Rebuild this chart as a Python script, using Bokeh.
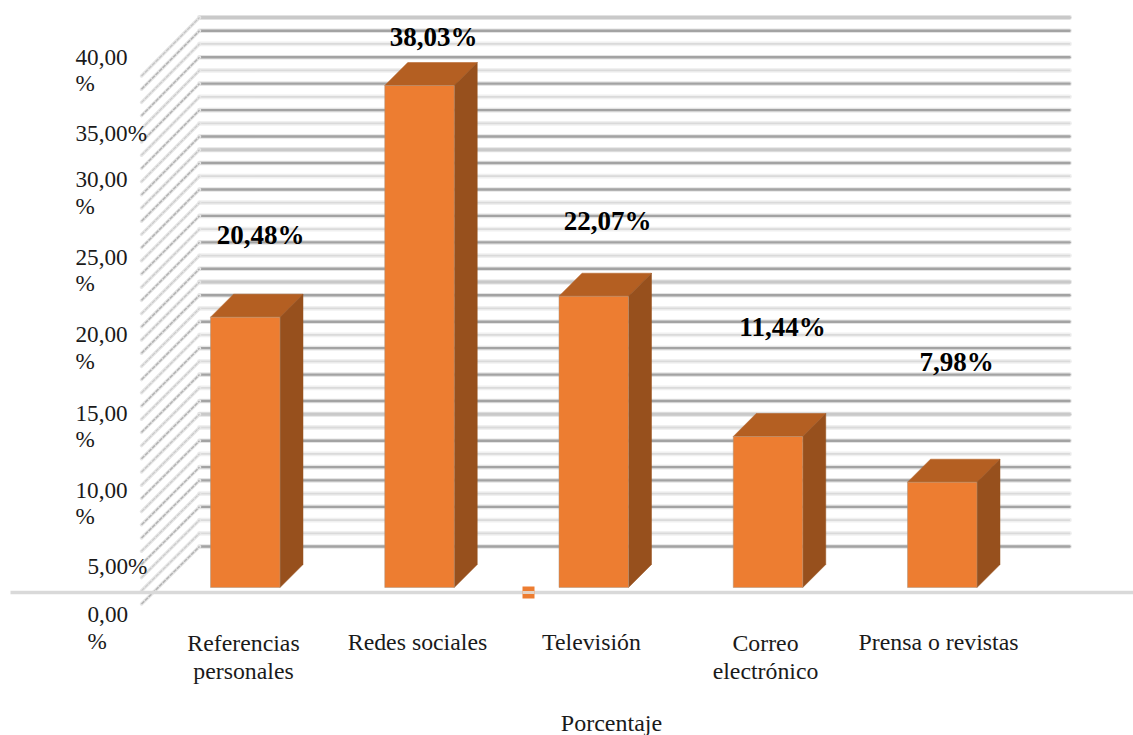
from bokeh.embed import file_html
from bokeh.models import ColumnDataSource, Range1d
from bokeh.plotting import figure
from bokeh.core.properties import value
from bokeh.resources import INLINE

# Survey shares per information channel
categories = ["Referencias\npersonales", "Redes sociales", "Televisión",
              "Correo\nelectrónico", "Prensa o revistas"]
shares = [20.48, 38.03, 22.07, 11.44, 7.98]
share_labels = ["20,48%", "38,03%", "22,07%", "11,44%", "7,98%"]
tick_labels = ["0,00\n%", "5,00%", "10,00\n%", "15,00\n%", "20,00\n%",
               "25,00\n%", "30,00\n%", "35,00%", "40,00\n%"]
x_title = "Porcentaje"
grid_levels = list(range(0, 41))
# Rule tone for each level, bottom to top: d dark, m medium, p pale
grid_tones = "dppdpddpdpm" + "dpdpdpdpd" + "m" + "dpdpdpdpd" + "m" + "dpdpdpdpd" + "m"

# Page layout, in pixels, turned into percent through the vertical scale
W, H = 1133, 735
BASE_PX = 587.0
PX_PER_PCT = 13.2


def pct(py):
    return (BASE_PX - py) / PX_PER_PCT


FONT = value("Liberation Serif")
p = figure(width=W, height=H, output_backend="svg", toolbar_location=None,
           x_range=Range1d(0, W), y_range=Range1d(pct(H), pct(0)),
           min_border=0, outline_line_color=None, background_fill_color="white")
p.axis.visible = False
p.grid.visible = False

# Back wall rules with their side-wall diagonals
WALL_L, WALL_R, SIDE_L = 199, 1069, 141
BACK_0, FRONT_0 = 546.0, 603.5
TONES = {
    "d": dict(halo="#e4e4e4", core="#a3a3a3", hw=4.6, cw=2.4, diag="#b4b4b4", dw=1.5),
    "m": dict(halo="#e2e2e2", core="#c9c9c9", hw=4.8, cw=3.0, diag="#c4c4c4", dw=1.3),
    "p": dict(halo="#f0f0f0", core="#dadada", hw=4.8, cw=1.8, diag="#cacaca", dw=1.1),
}
for lvl, tone in zip(grid_levels, grid_tones):
    s = TONES[tone]
    yb = BACK_0 - 13.225 * lvl
    yf = FRONT_0 - 13.2 * lvl
    y = pct(yb)
    p.line([WALL_L, WALL_R], [y, y], line_color=s["halo"], line_width=s["hw"], line_cap="round")
    p.line([WALL_L, WALL_R], [y, y], line_color=s["core"], line_width=s["cw"], line_cap="round")
    p.line([SIDE_L, WALL_L], [pct(yf), y], line_color="#e6e6e6", line_width=3.4, line_cap="round")
    p.line([SIDE_L, WALL_L], [pct(yf), y], line_color=s["diag"], line_width=s["dw"], line_dash="4 1")

# Floor line and the small series key sitting on it
p.line([10, W], [pct(592), pct(592)], line_color="#d9d9d9", line_width=3.5)
p.rect(x=[528], y=[pct(592)], width=12, height=12 / PX_PER_PCT, fill_color="#ed7d31",
       line_color=None)
p.line([522, 534], [pct(592), pct(592)], line_color="#e3d3c6", line_width=3)

# Bars: front face, top and right side of each box
BAR_X0, BAR_STEP, BAR_W, DEPTH_X, DEPTH_Y = 210.0, 174.25, 69.5, 23, 23 / PX_PER_PCT
lefts = [BAR_X0 + BAR_STEP * i for i in range(len(shares))]
rights = [x + BAR_W for x in lefts]
tops = ColumnDataSource(dict(
    xs=[[a, a + DEPTH_X, b + DEPTH_X, b] for a, b in zip(lefts, rights)],
    ys=[[v, v + DEPTH_Y, v + DEPTH_Y, v] for v in shares]))
sides = ColumnDataSource(dict(
    xs=[[b, b + DEPTH_X, b + DEPTH_X, b] for b in rights],
    ys=[[0, DEPTH_Y, v + DEPTH_Y, v] for v in shares]))
p.patches("xs", "ys", source=tops, fill_color="#b45f22", line_color="#b45f22", line_width=0.5)
p.patches("xs", "ys", source=sides, fill_color="#97501d", line_color="#97501d", line_width=0.5)
p.quad(left=lefts, right=rights, bottom=0, top=shares, fill_color="#ed7d31",
       line_color="#a8927f", line_width=0.5)

# Value labels above the boxes
label_x = [260, 433, 607, 782, 956]
label_y = [234.5, 36.5, 220.5, 326, 361]
p.text(x=label_x, y=[pct(v) for v in label_y], text=share_labels, text_font=FONT,
       text_font_style="bold", text_font_size="27px", text_color="black",
       text_align="center", text_baseline="middle")

# Percent scale on the left; the wrapped entries mimic a narrow label column
tick_x = [87, 87, 75, 75, 75, 75, 75, 75, 75]
tick_y = [627, 565.5, 502.5, 425.5, 347, 269.5, 192, 132.5, 69.5]
p.text(x=tick_x, y=[pct(v) for v in tick_y], text=tick_labels, text_font=FONT,
       text_font_size="23.2px", text_color="#1a1a1a", text_align="left",
       text_baseline="middle", text_line_height=1.02)

# Category names and axis title
cat_x = [243, 417, 591, 765, 938]
cat_y = [656.5, 641.5, 641.5, 656.5, 641.5]
p.text(x=cat_x, y=[pct(v) for v in cat_y], text=categories, text_font=FONT,
       text_font_size="23.8px", text_color="#1a1a1a", text_align="center",
       text_baseline="middle", text_line_height=1.08)
p.text(x=[611], y=[pct(722)], text=[x_title], text_font=FONT, text_font_size="24px",
       text_color="#1a1a1a", text_align="center", text_baseline="middle")

open("out.html", "w").write(file_html(p, INLINE))
